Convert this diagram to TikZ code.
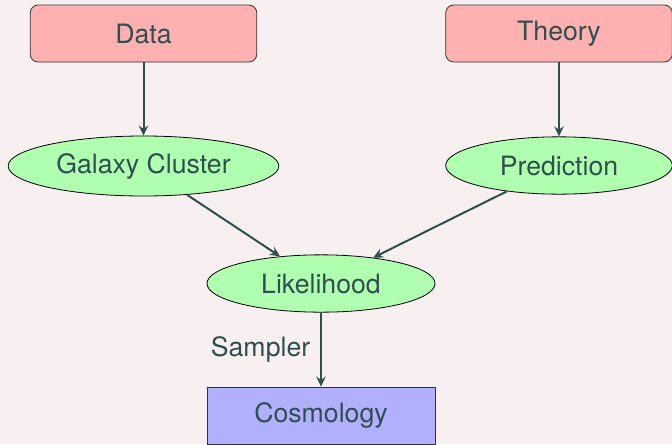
\documentclass[tikz,border=0pt]{standalone}
\usepackage{fontspec}
\setmainfont{TeX Gyre Heros}
\usetikzlibrary{shapes.geometric,arrows.meta}

\definecolor{bgpink}{RGB}{248,240,240}
\definecolor{inputred}{RGB}{255,176,176}
\definecolor{stepgreen}{RGB}{176,255,176}
\definecolor{outblue}{RGB}{176,176,255}
\definecolor{slate}{RGB}{47,79,79}

\begin{document}
\begin{tikzpicture}[x=0.75pt,y=-0.75pt,
  every node/.style={text=slate,font=\fontsize{20}{24}\selectfont},
  inbox/.style={draw=black!80,line width=0.6pt,fill=inputred,rounded corners=6pt,
    minimum width=170pt,minimum height=42.75pt,inner sep=0pt},
  stepell/.style={ellipse,draw=black,line width=0.6pt,fill=stepgreen,
    minimum height=43pt,inner sep=0pt},
  outbox/.style={draw=black!80,line width=0.6pt,fill=outblue,
    minimum width=171pt,minimum height=42.75pt,inner sep=0pt},
  flow/.style={draw=slate,line width=1.5pt,-{Stealth[length=7.5pt,width=7pt,inset=2.5pt]}}]
%background and frame
\fill[bgpink] (0,0) rectangle (672,444);
\useasboundingbox (0,0) rectangle (672,444);
%inputs
\node[inbox] (data) at (143.5,33.5) {Data};
\node[inbox] (theory) at (559,33.5) {Theory};
%intermediate steps
\node[stepell,minimum width=203pt,minimum height=45pt] (cluster) at (143.5,166) {Galaxy Cluster};
\node[stepell,minimum width=170pt] (prediction) at (559,165.5) {Prediction};
\node[stepell,minimum width=171pt] (likelihood) at (321,283.5) {Likelihood};
%result
\node[outbox] (cosmology) at (321,415.5) {Cosmology};
%connectors
\draw[flow] (data) -- (cluster);
\draw[flow] (theory) -- (prediction);
\draw[flow] (cluster) -- (likelihood);
\draw[flow] (prediction) -- (likelihood);
\draw[flow] (likelihood) -- node[midway,left,xshift=-4pt] {Sampler} (cosmology);
\end{tikzpicture}
\end{document}
